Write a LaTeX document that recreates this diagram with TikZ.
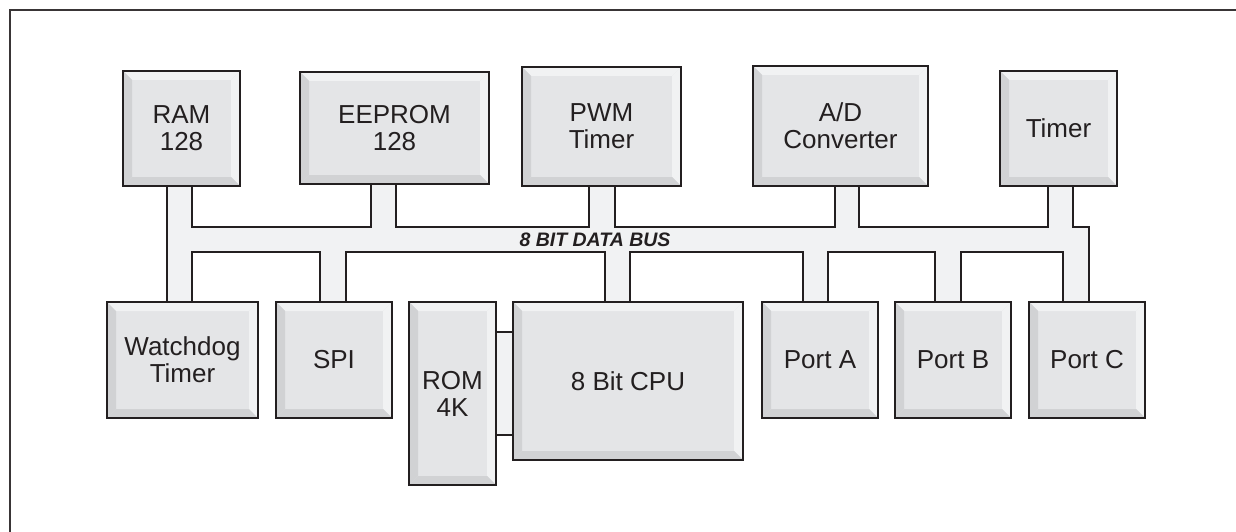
\documentclass[tikz,border=0pt]{standalone}
\usepackage{fontspec}
\setmainfont{Liberation Sans}
\usetikzlibrary{backgrounds}
\definecolor{linec}{HTML}{231F20}
\definecolor{facec}{HTML}{E4E5E7}
\definecolor{litec}{HTML}{F1F2F3}
\definecolor{darkc}{HTML}{D1D2D4}
\definecolor{busc}{HTML}{F1F2F3}
\tikzset{
  blk/.style={draw=linec, line width=1.8pt, fill=facec, text=linec, align=center,
    inner sep=0pt, font=\fontsize{26}{27}\selectfont,
    path picture={
      \coordinate (psw) at (path picture bounding box.south west);
      \coordinate (pne) at (path picture bounding box.north east);
      \path (psw) ++(9pt,9pt) coordinate (qsw);
      \path (pne) ++(-9pt,-9pt) coordinate (qne);
      \fill[litec] (psw|-pne) -- (pne) -- (qne) -- (qsw|-qne) -- cycle;
      \fill[litec] (pne) -- (pne|-psw) -- (qne|-qsw) -- (qne) -- cycle;
      \fill[darkc] (psw) -- (pne|-psw) -- (qne|-qsw) -- (qsw) -- cycle;
      \fill[darkc] (psw) -- (psw|-pne) -- (qsw|-qne) -- (qsw) -- cycle;
    }},
  busline/.style={draw=linec, line width=1.8pt, fill=busc, line join=miter},
  frameline/.style={draw=linec!90, line width=2pt},
  buslabel/.style={font=\fontsize{19.5}{20}\selectfont\bfseries\itshape, text=linec, inner sep=0pt}
}
\begin{document}
\begin{tikzpicture}[x=1pt,y=-1pt]
\useasboundingbox (0,0) rectangle (1236,532);
\draw[frameline] (9.7,540) -- (9.7,10.3) -- (1240,10.3);

% top row
\node[blk, minimum width=117pt, minimum height=115pt] (ram) at (181.5,128.5) {RAM\\128};
\node[blk, minimum width=189pt, minimum height=112pt] (eeprom) at (394.5,128) {EEPROM\\128};
\node[blk, minimum width=159pt, minimum height=119pt] (pwm) at (601.5,126.5) {PWM\\Timer};
\node[blk, minimum width=175pt, minimum height=120pt] (adc) at (840.5,126) {A/D\\Converter};
\node[blk, minimum width=117pt, minimum height=115pt] (timer) at (1058.5,128.5) {Timer};

% bottom row
\node[blk, minimum width=151pt, minimum height=116pt] (wdt) at (182.5,360) {Watchdog\\Timer};
\node[blk, minimum width=116pt, minimum height=116pt] (spi) at (334,360) {SPI};
\node[blk, minimum width=87pt, minimum height=183pt] (rom) at (452.5,393.5) {ROM\\4K};
\node[blk, minimum width=230pt, minimum height=158pt] (cpu) at (628,381) {8 Bit CPU};
\node[blk, minimum width=116pt, minimum height=116pt] (porta) at (820,360) {Port A};
\node[blk, minimum width=116pt, minimum height=116pt] (portb) at (953,360) {Port B};
\node[blk, minimum width=116pt, minimum height=116pt] (portc) at (1087,360) {Port C};

\node[buslabel] (buslbl) at (595,240) {8 BIT DATA BUS};

\begin{scope}[on background layer]
\draw[busline] (167,180) -- (192,180) -- (192,227) -- (371,227) -- (371,180) -- (396,180)
  -- (396,227) -- (589,227) -- (589,180) -- (615,180) -- (615,227) -- (835,227)
  -- (835,180) -- (859,180) -- (859,227) -- (1048,227) -- (1048,180) -- (1073,180)
  -- (1073,227) -- (1089,227) -- (1089,308) -- (1063,308) -- (1063,252) -- (961,252)
  -- (961,308) -- (935,308) -- (935,252) -- (828,252) -- (828,308) -- (803,308)
  -- (803,252) -- (630,252) -- (630,308) -- (605,308) -- (605,252) -- (346,252)
  -- (346,308) -- (320,308) -- (320,252) -- (192,252) -- (192,308) -- (167,308) -- cycle;
\draw[busline] ([xshift=-4pt]rom.east |- 0,332) rectangle ([xshift=4pt]cpu.west |- 0,435);
\end{scope}
\end{tikzpicture}
\end{document}
